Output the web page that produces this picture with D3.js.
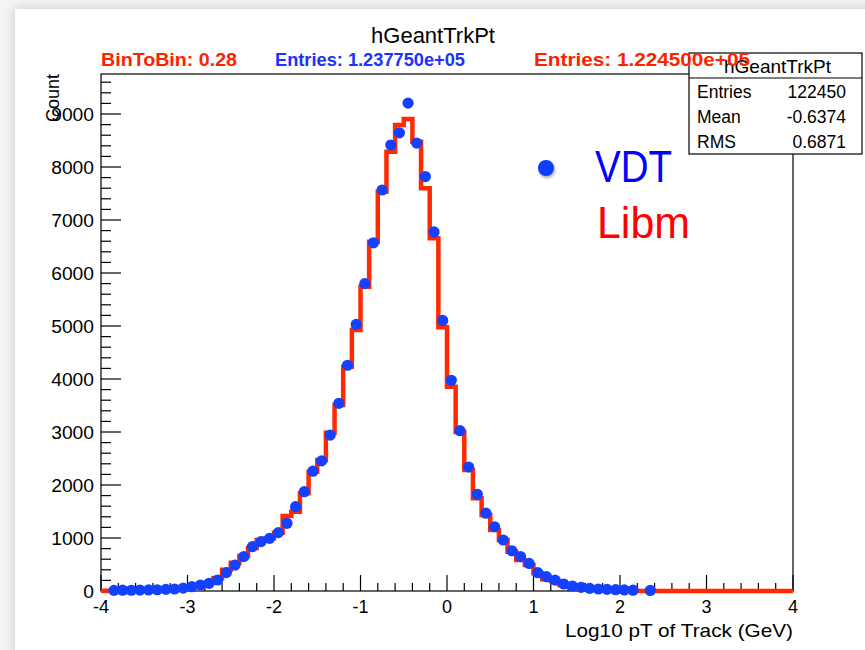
<!DOCTYPE html>
<html>
<head>
<meta charset="utf-8">
<script src="https://cdn.jsdelivr.net/npm/d3@7"></script>
<style>
  body { margin: 0; background: #f4f4f4; }
  svg { display: block; font-family: "Liberation Sans", Arial, Helvetica, sans-serif; }
</style>
</head>
<body>
<svg id="chart" width="865" height="650"></svg>
<script>
// Histogram binning: 80 bins of width 0.1 on [-4, 4]
const binLow = -4;
const binWidth = 0.1;

// VDT bin contents (drawn as markers)
const vdtCounts = [
  0, 12, 15, 14, 18, 20, 24, 30, 38, 55,
  81, 113, 145, 208, 346, 490, 648, 836, 931, 994,
  1101, 1277, 1591, 1874, 2260, 2455, 2943, 3541, 4260, 5030,
  5800, 6570, 7566, 8415, 8645, 9205, 8450, 7820, 6775, 5105,
  3975, 3025, 2340, 1825, 1468, 1212, 962, 758, 650, 520,
  345, 270, 205, 132, 94, 70, 50, 38, 30, 25,
  20, 15, 0, 10, 0, 0, 0, 0, 0, 0,
  0, 0, 0, 0, 0, 0, 0, 0, 0, 0
];

// Libm bin contents (drawn as a step outline)
const libmCounts = [
  3, 2, 4, 5, 6, 8, 10, 35, 40, 45,
  90, 95, 150, 245, 400, 534, 660, 811, 962, 994,
  1101, 1415, 1497, 1843, 2252, 2472, 2987, 3509, 4232, 4925,
  5742, 6591, 7534, 8289, 8792, 8906, 8478, 7598, 6654, 4975,
  3855, 3000, 2283, 1749, 1434, 1151, 962, 742, 585, 490,
  333, 220, 189, 113, 82, 55, 50, 45, 10, 8,
  5, 4, 2, 2, 0, 0, 0, 0, 0, 0,
  0, 0, 0, 0, 0, 0, 0, 0, 0, 0
];

const xTickValues = [-4, -3, -2, -1, 0, 1, 2, 3, 4];
const yTickValues = [0, 1000, 2000, 3000, 4000, 5000, 6000, 7000, 8000, 9000];

const titleText = "hGeantTrkPt";
const xTitle = "Log10 pT of Track (GeV)";
const yTitle = "Count";
const headerItems = [
  { text: "BinToBin: 0.28", x: 101, width: 136, color: "#ff2200" },
  { text: "Entries: 1.237750e+05", x: 275, width: 190, color: "#1a33ff" },
  { text: "Entries: 1.224500e+05", x: 534, width: 216, color: "#ff2200" }
];
const statsRows = [["Entries", "122450"], ["Mean", "-0.6374"], ["RMS", "0.6871"]];
const legendNames = ["VDT", "Libm"];

const svg = d3.select("#chart");

// frame geometry
const frameL = 101, frameR = 793, frameT = 74, frameB = 591;
const x = d3.scaleLinear().domain([-4, 4]).range([frameL, frameR]);
const y = d3.scaleLinear().domain([0, 9755]).range([frameB, frameT]);

const defs = svg.append("defs");
const cardShadow = defs.append("filter").attr("id", "cardShadow")
  .attr("x", "-10%").attr("y", "-10%").attr("width", "120%").attr("height", "120%");
cardShadow.append("feGaussianBlur").attr("in", "SourceAlpha").attr("stdDeviation", 6).attr("result", "b");
cardShadow.append("feComponentTransfer").attr("in", "b").attr("result", "s")
  .append("feFuncA").attr("type", "linear").attr("slope", 0.2);
const cm = cardShadow.append("feMerge");
cm.append("feMergeNode").attr("in", "s");
cm.append("feMergeNode").attr("in", "SourceGraphic");

const legendShadow = defs.append("filter").attr("id", "legShadow")
  .attr("x", "-50%").attr("y", "-50%").attr("width", "200%").attr("height", "200%");
legendShadow.append("feGaussianBlur").attr("in", "SourceAlpha").attr("stdDeviation", 1.5).attr("result", "b");
legendShadow.append("feOffset").attr("in", "b").attr("dx", 1).attr("dy", 2).attr("result", "o");
legendShadow.append("feComponentTransfer").attr("in", "o").attr("result", "s")
  .append("feFuncA").attr("type", "linear").attr("slope", 0.35);
const lm = legendShadow.append("feMerge");
lm.append("feMergeNode").attr("in", "s");
lm.append("feMergeNode").attr("in", "SourceGraphic");

// page background and white card
svg.append("rect").attr("width", 865).attr("height", 650).attr("fill", "#f4f4f4");
svg.append("rect").attr("x", 15).attr("y", 9).attr("width", 900).attr("height", 700)
  .attr("fill", "#ffffff").attr("filter", "url(#cardShadow)");

// title
svg.append("text").attr("x", 433).attr("y", 43).attr("text-anchor", "middle")
  .attr("font-size", 22).attr("fill", "#000").text(titleText);

// frame
svg.append("rect").attr("x", frameL).attr("y", frameT).attr("width", frameR - frameL).attr("height", frameB - frameT)
  .attr("fill", "none").attr("stroke", "#000").attr("stroke-width", 1.2);

// y axis ticks (major every 1000, minor every 200)
const yMinor = d3.range(0, 9755, 200);
svg.append("g").selectAll("line").data(yMinor).join("line")
  .attr("x1", frameL).attr("x2", d => frameL + (d % 1000 === 0 ? 20 : 10))
  .attr("y1", d => y(d)).attr("y2", d => y(d))
  .attr("stroke", "#000").attr("stroke-width", 1.2);
svg.append("g").selectAll("text").data(yTickValues).join("text")
  .attr("x", 94).attr("y", d => y(d) + 6.5).attr("text-anchor", "end")
  .attr("font-size", 18).attr("fill", "#000")
  .attr("textLength", d => String(d).length * 10.7).attr("lengthAdjust", "spacingAndGlyphs")
  .text(d => d);

// x axis ticks (major every 1, minor every 0.2)
const xMinor = d3.range(0, 41).map(i => -4 + i * 0.2);
svg.append("g").selectAll("line").data(xMinor).join("line")
  .attr("x1", d => x(d)).attr("x2", d => x(d))
  .attr("y1", frameB).attr("y2", (d, i) => frameB - (i % 5 === 0 ? 16 : 8))
  .attr("stroke", "#000").attr("stroke-width", 1.2);
svg.append("g").selectAll("text").data(xTickValues).join("text")
  .attr("x", d => x(d)).attr("y", 613).attr("text-anchor", "middle")
  .attr("font-size", 18).attr("fill", "#000").text(d => d);

// axis titles
svg.append("text").attr("x", frameR).attr("y", 637).attr("text-anchor", "end")
  .attr("font-size", 19).attr("fill", "#000")
  .attr("textLength", 228).attr("lengthAdjust", "spacingAndGlyphs").text(xTitle);
svg.append("text").attr("transform", `translate(59,${frameT}) rotate(-90)`)
  .attr("text-anchor", "end").attr("font-size", 18).attr("fill", "#000").text(yTitle);

// Libm step outline
const edges = libmCounts.map((v, i) => [binLow + i * binWidth, v]);
edges.push([binLow + libmCounts.length * binWidth, libmCounts[libmCounts.length - 1]]);
const step = d3.line().x(d => x(d[0])).y(d => y(d[1])).curve(d3.curveStepAfter);
svg.append("path").attr("d", step(edges))
  .attr("fill", "none").attr("stroke", "#ff2a00").attr("stroke-width", 4.5)
  .attr("stroke-linejoin", "miter");

// VDT markers at bin centres
const pts = vdtCounts.map((v, i) => ({ c: binLow + (i + 0.5) * binWidth, v })).filter(d => d.v > 0);
svg.append("g").selectAll("circle").data(pts).join("circle")
  .attr("cx", d => x(d.c)).attr("cy", d => y(d.v)).attr("r", 5.6)
  .attr("fill", "#1440ff");

// statistics box
const bx = 689, by = 53, bw = 173, bh = 101;
svg.append("rect").attr("x", bx).attr("y", by).attr("width", bw).attr("height", bh)
  .attr("fill", "#fff").attr("stroke", "#000").attr("stroke-width", 1.2);
svg.append("line").attr("x1", bx).attr("x2", bx + bw).attr("y1", 78).attr("y2", 78)
  .attr("stroke", "#000").attr("stroke-width", 1.2);
svg.append("text").attr("x", bx + bw / 2 + 2).attr("y", 73).attr("text-anchor", "middle")
  .attr("font-size", 19).attr("fill", "#000").text(titleText);
const rows = svg.append("g").selectAll("g").data(statsRows).join("g")
  .attr("transform", (d, i) => `translate(0,${98 + i * 25})`);
rows.append("text").attr("x", 697).attr("font-size", 17.5).attr("fill", "#000").text(d => d[0]);
rows.append("text").attr("x", 846).attr("text-anchor", "end").attr("font-size", 17.5).attr("fill", "#000").text(d => d[1]);

// comparison header line (drawn over the stats box)
svg.append("g").attr("font-size", 18).attr("font-weight", "bold")
  .selectAll("text").data(headerItems).join("text")
  .attr("x", d => d.x).attr("y", 66).attr("fill", d => d.color)
  .attr("textLength", d => d.width).attr("lengthAdjust", "spacingAndGlyphs")
  .text(d => d.text);

// legend
const leg = svg.append("g");
leg.append("circle").attr("cx", 546).attr("cy", 168).attr("r", 8)
  .attr("fill", "#0a3cff").attr("filter", "url(#legShadow)");
leg.append("line").attr("x1", 519).attr("x2", 580).attr("y1", 222).attr("y2", 222)
  .attr("stroke", "#ff2a00").attr("stroke-width", 5).attr("filter", "url(#legShadow)");
leg.append("text").attr("x", 595).attr("y", 182).attr("font-size", 45).attr("fill", "#0000ff")
  .attr("textLength", 77).attr("lengthAdjust", "spacingAndGlyphs").text(legendNames[0]);
leg.append("text").attr("x", 597).attr("y", 238).attr("font-size", 45).attr("fill", "#ff0000")
  .attr("textLength", 93).attr("lengthAdjust", "spacingAndGlyphs").text(legendNames[1]);
</script>
</body>
</html>
